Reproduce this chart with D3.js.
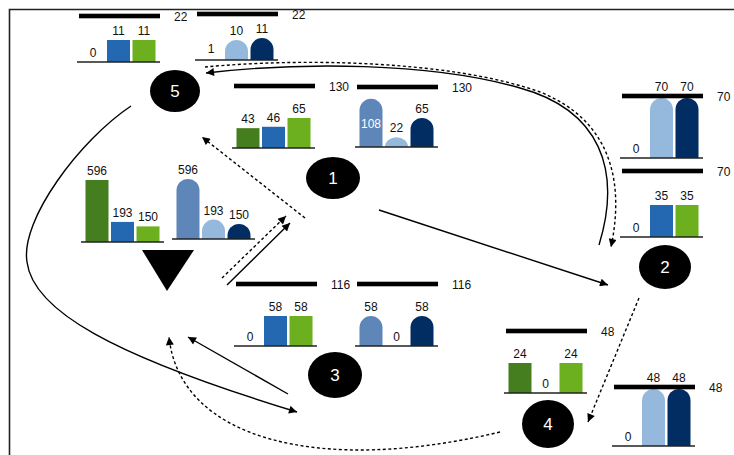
<!DOCTYPE html>
<html><head><meta charset="utf-8">
<script src="https://cdn.jsdelivr.net/npm/d3@7"></script>
<style>
html,body{margin:0;padding:0;background:#fff;}
svg{display:block;font-family:"Liberation Sans",Arial,Helvetica,sans-serif;}
</style></head>
<body>
<svg id="chart" width="734" height="455"></svg>
<script>
// ---------------- DATA ----------------
const nodeNames = ["1", "2", "3", "4", "5"];
const slotKeys = [0, 1, 2];
const chartNames  = ["5a", "5b", "1a", "1b", "Sa", "Sb", "2a", "2b", "3a", "3b", "4a", "4b"];
const chartValues = [
  [0, 11, 11],
  [1, 10, 11],
  [43, 46, 65],
  [108, 22, 65],
  [596, 193, 150],
  [596, 193, 150],
  [0, 70, 70],
  [0, 35, 35],
  [0, 58, 58],
  [58, 0, 58],
  [24, 0, 24],
  [0, 48, 48]
];
const chartTotals = [22, 22, 130, 130, null, null, 70, 70, 116, 116, 48, 48];
const chartShapes = ["square", "round", "square", "round", "square", "round", "round", "square", "square", "round", "square", "round"];

// ---------------- LAYOUT / STYLE ----------------
const squareColors = ["#457e1e", "#2368b0", "#6caf1f"];
const roundColors  = ["#5e86b8", "#94b9dc", "#022d62"];
const chartLayout = {
  "5a": {x: 77,  base: 62,  h: 44},
  "5b": {x: 195, base: 60,  h: 44},
  "1a": {x: 232, base: 148, h: 60},
  "1b": {x: 355, base: 147, h: 58},
  "Sa": {x: 81,  base: 242, h: 62},
  "Sb": {x: 172, base: 239, h: 60},
  "2a": {x: 620, base: 158, h: 60},
  "2b": {x: 620, base: 237, h: 64},
  "3a": {x: 234, base: 346, h: 60},
  "3b": {x: 355, base: 346, h: 60},
  "4a": {x: 504, base: 393, h: 60},
  "4b": {x: 612, base: 446, h: 57}
};
const chartW = 83;
const nodeLayout = {
  "1": {cx: 333, cy: 178, rx: 27, ry: 21},
  "2": {cx: 665, cy: 267, rx: 26, ry: 22},
  "3": {cx: 335, cy: 375, rx: 27, ry: 23},
  "4": {cx: 548, cy: 424, rx: 26, ry: 24},
  "5": {cx: 175, cy: 91,  rx: 25, ry: 21}
};

const svg = d3.select("#chart");

svg.append("path").attr("d", "M9.5,460 V9.5 H740")
  .attr("fill", "none").attr("stroke", "#222").attr("stroke-width", 1.6);

const defs = svg.append("defs");
defs.append("marker").attr("id", "ah")
  .attr("viewBox", "0 0 10 10").attr("refX", 10).attr("refY", 5)
  .attr("markerWidth", 11).attr("markerHeight", 8)
  .attr("markerUnits", "userSpaceOnUse").attr("orient", "auto")
  .append("path").attr("d", "M0,0 L10,5 L0,10 Z").attr("fill", "#000");

const links = [
  {d: "M131,106 C80,140 20,220 27,262 C33,310 110,355 297,412", dash: false},
  {d: "M288,394 L188,337", dash: false},
  {d: "M500,432 C320,475 180,440 169,337", dash: true},
  {d: "M379,210 L608,285", dash: false},
  {d: "M639,298 L588,422", dash: true},
  {d: "M599,245 C622,170 600,110 520,88 C430,62 300,62 206,73", dash: false},
  {d: "M205,67 C300,58 450,60 540,92 C610,120 625,180 611,247", dash: true},
  {d: "M305,218 L202,137", dash: true},
  {d: "M227,285 L290,223", dash: false},
  {d: "M222,278 L286,216", dash: true}
];
svg.append("g").selectAll("path").data(links).join("path")
  .attr("d", d => d.d).attr("fill", "none").attr("stroke", "#000")
  .attr("stroke-width", 1.4)
  .attr("stroke-dasharray", d => d.dash ? "3,2.5" : null)
  .attr("marker-end", "url(#ah)");

svg.append("path").attr("d", "M142,250 L194,250 L167,291 Z").attr("fill", "#000");

const ng = svg.append("g").selectAll("g").data(nodeNames).join("g");
ng.append("ellipse")
  .attr("cx", d => nodeLayout[d].cx).attr("cy", d => nodeLayout[d].cy)
  .attr("rx", d => nodeLayout[d].rx).attr("ry", d => nodeLayout[d].ry)
  .attr("fill", "#000");
ng.append("text")
  .attr("x", d => nodeLayout[d].cx).attr("y", d => nodeLayout[d].cy + 6)
  .attr("text-anchor", "middle").attr("fill", "#fff")
  .attr("font-size", 17).text(d => d);

function roundedBar(x, w, yTop, yBase) {
  const hgt = yBase - yTop;
  const rx = w / 2, ry = Math.min(rx, hgt);
  return `M${x},${yBase} V${yTop + ry} A${rx},${ry} 0 0 1 ${x + w},${yTop + ry} V${yBase} Z`;
}

chartNames.forEach((name, ci) => {
  const L = chartLayout[name];
  const vals = chartValues[ci];
  const total = chartTotals[ci];
  const shape = chartShapes[ci];
  const colors = shape === "round" ? roundColors : squareColors;
  const g = svg.append("g");
  const xS = d3.scaleBand().domain(slotKeys).range([L.x, L.x + chartW])
    .paddingInner(0.098).paddingOuter(0.176);
  const maxV = total != null ? total : d3.max(vals);
  const yS = d3.scaleLinear().domain([0, maxV]).range([L.base, L.base - L.h]);
  const bw = xS.bandwidth();
  const thickY = L.base - L.h - 2;

  g.selectAll("path.bar").data(slotKeys).join("path").attr("class", "bar")
    .attr("fill", i => colors[i])
    .attr("d", i => {
      const v = vals[i];
      const x = xS(i), yT = yS(v);
      if (L.base - yT < 2.5) return null;
      if (shape === "round") return roundedBar(x, bw, yT, L.base);
      return `M${x},${L.base} V${yT} H${x + bw} V${L.base} Z`;
    });

  g.append("line").attr("x1", L.x).attr("x2", L.x + chartW)
    .attr("y1", L.base).attr("y2", L.base)
    .attr("stroke", "#222").attr("stroke-width", 1.5);

  if (total != null) {
    g.append("rect").attr("x", L.x + 2).attr("y", thickY - 2.3)
      .attr("width", chartW - 2).attr("height", 4.6).attr("fill", "#000");
    g.append("text").attr("x", L.x + chartW + 14).attr("y", thickY + 5)
      .attr("font-size", 12).attr("fill", "#111").text(total);
  }

  g.selectAll("text.v").data(slotKeys).join("text").attr("class", "v")
    .attr("text-anchor", "middle").attr("font-size", 12)
    .each(function (i) {
      const v = vals[i];
      const cx = xS(i) + bw / 2;
      const yT = yS(v);
      let y = yT - 5, fill = "#111";
      if (total != null) {
        if (v === total) {
          y = thickY - 5;
        } else if (y - 9 < thickY + 3) {
          y = (yT + L.base) / 2 + 5; fill = "#fff";
        }
      }
      d3.select(this).attr("x", cx).attr("y", y).attr("fill", fill).text(v);
    });
});
</script>
</body></html>
